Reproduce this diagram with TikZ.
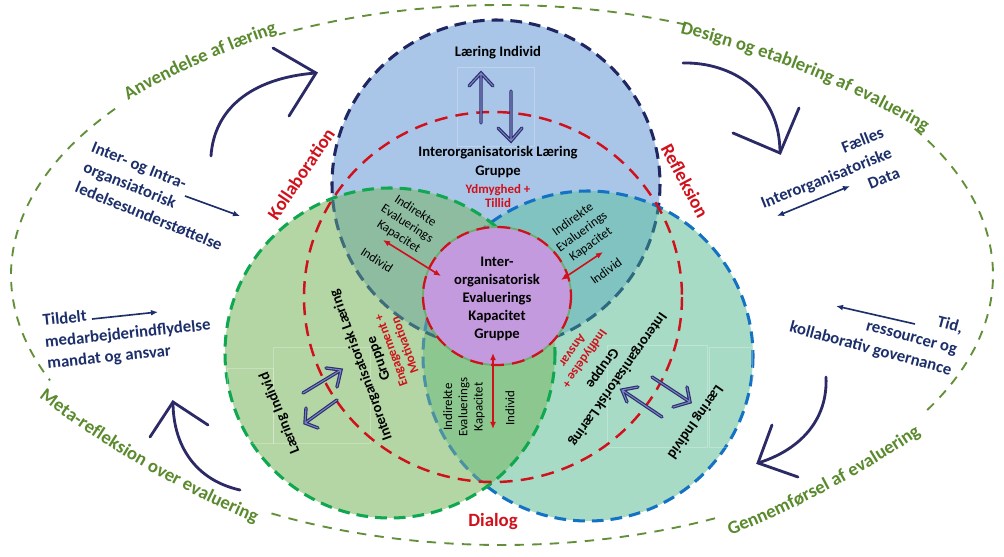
\documentclass[tikz,border=0pt]{standalone}
\usepackage{fontspec}
\setmainfont{Carlito}
\usetikzlibrary{arrows.meta,decorations.text}
\definecolor{cT}{HTML}{A9C6E8}
\definecolor{cR}{HTML}{A8DBC6}
\definecolor{cL}{HTML}{B3D6A4}
\definecolor{cTR}{HTML}{80C3C0}
\definecolor{cTL}{HTML}{8DBCA1}
\definecolor{cLR}{HTML}{8CC78F}
\definecolor{cTLR}{HTML}{76B29E}
\definecolor{cPink}{HTML}{C49ADF}
\definecolor{cPinkRing}{HTML}{6DAE70}
\definecolor{cTB}{HTML}{1F2662}
\definecolor{cRB}{HTML}{1472C4}
\definecolor{cLB}{HTML}{0FA750}
\definecolor{cTBgR}{HTML}{2C6A80}
\definecolor{cTBgL}{HTML}{3E6C7B}
\definecolor{cRBgL}{HTML}{4A92A3}
\definecolor{cRed}{HTML}{D0101B}
\definecolor{cOlive}{HTML}{62903A}
\definecolor{cOliveTxt}{HTML}{5A8A2E}
\definecolor{cNavy}{HTML}{1C2F6A}
\definecolor{cArrow}{HTML}{2B2966}
\definecolor{cArrowB}{HTML}{2C2F70}
\definecolor{cArrowIn}{HTML}{7C83C0}
\newcommand{\greenlbl}{\fontsize{16}{19}\selectfont\bfseries\color{cOliveTxt}}
\tikzset{
  circb/.style={line width=2.6pt, dash pattern=on 10pt off 6pt},
  reddash/.style={draw=cRed, line width=2.1pt, dash pattern=on 11pt off 7pt},
  outer/.style={draw=cOlive, line width=1.6pt, dash pattern=on 8pt off 7pt},
  bigarrow/.style={draw=cArrow, line width=2.4pt, line cap=round, line join=miter},
  txtarrow/.style={draw=cNavy, line width=1.4pt, -{Latex[length=6pt,width=5pt]}},
  txtarrow2/.style={draw=cNavy, line width=1.4pt, {Latex[length=6pt,width=5pt]}-{Latex[length=6pt,width=5pt]}},
  redarrow/.style={draw=cRed, line width=1.4pt, {Latex[length=6pt,width=5pt]}-{Latex[length=6pt,width=5pt]}},
  dblarrow/.style={draw=cArrowB, line width=1pt, double=cArrowIn, double distance=0.9pt, line cap=round},
  faint/.style={draw=white, opacity=0.25, line width=0.5pt},
  lbl/.style={font=\fontsize{12.5}{16}\selectfont\bfseries, align=center, inner sep=0pt},
  pinklbl/.style={font=\fontsize{12.5}{15.3}\selectfont\bfseries, align=center, inner sep=0pt},
  lens/.style={font=\fontsize{11}{13}\selectfont, align=center, inner sep=0pt},
  redlbl/.style={font=\fontsize{11}{12.5}\selectfont\bfseries, text=cRed, align=center, inner sep=0pt},
  bigred/.style={font=\fontsize{16}{19}\selectfont\bfseries, text=cRed, inner sep=0pt},
  navytxt/.style={font=\fontsize{14.3}{18.5}\selectfont\bfseries, text=cNavy, inner sep=0pt},
  greenpath/.style={decorate, decoration={text along path, text align=center, text={|\greenlbl|#1}}}
}
\begin{document}
\begin{tikzpicture}[x=0.03cm, y=-0.03cm]
\useasboundingbox (0,0) rectangle (1004,556);
\coordinate (T) at (496,184);
\coordinate (L) at (390,353);
\coordinate (R) at (588,356);
\coordinate (P) at (497,296);
\coordinate (Q) at (493,297);
\coordinate (E) at (502,275);

% outer ellipse with gaps
\draw[outer] (E) ++(-68:491 and 270) arc[start angle=-68, end angle=-117, x radius=491, y radius=270];
\draw[outer] (E) ++(-142:491 and 270) arc[start angle=-142, end angle=-203, x radius=491, y radius=270];
\draw[outer] (E) ++(-242:491 and 270) arc[start angle=-242, end angle=-296, x radius=491, y radius=270];
\draw[outer] (E) ++(-330:491 and 270) arc[start angle=-330, end angle=-393, x radius=491, y radius=270];

% outer labels
\path[greenpath={Anvendelse af læring}] (548,828) ++(-134.4:840) arc[start angle=-134.4, end angle=-94.4, radius=840];
\path[greenpath={Design og etablering af evaluering}] (469,908) ++(-88:900) arc[start angle=-88, end angle=-48, radius=900];
\path[greenpath={Meta-refleksion over evaluering}] (643,-399) ++(-220:1000) arc[start angle=-220, end angle=-260, radius=1000];
\path[greenpath={Gennemførsel af evaluering}] (359,-393) ++(-278:1000) arc[start angle=-278, end angle=-318, radius=1000];

% big curved arrows
\draw[bigarrow] (211,156) .. controls (214,110) and (250,78) .. (316,73);
\draw[bigarrow] (273,48) -- (316,73) -- (289,116);
\draw[bigarrow] (683,63) .. controls (730,62) and (780,90) .. (780,153);
\draw[bigarrow] (733,133) -- (780,153) -- (799,108);
\draw[bigarrow] (826,377) .. controls (828,420) and (800,450) .. (758,463);
\draw[bigarrow] (772,425) -- (758,463) -- (798,477);
\draw[bigarrow] (240,490) .. controls (195,480) and (173,445) .. (173,402);
\draw[bigarrow] (150,437) -- (173,402) -- (208,425);

% circles
\fill[cT] (T) circle[radius=164];
\draw[circb, draw=cTB] (T) circle[radius=164];
\fill[cR] (R) circle[radius=165];
\begin{scope}
  \clip (T) circle[radius=164];
  \fill[cTR] (R) circle[radius=165];
\end{scope}
\begin{scope}
  \clip (R) circle[radius=165];
  \draw[circb, draw=cTBgR] (T) circle[radius=164];
\end{scope}
\draw[circb, draw=cRB] (R) circle[radius=165];
\fill[cL] (L) circle[radius=165];
\begin{scope}
  \clip (L) circle[radius=165];
  \fill[cTL] (T) circle[radius=164];
  \fill[cLR] (R) circle[radius=165];
  \begin{scope}
    \clip (T) circle[radius=164];
    \fill[cTLR] (R) circle[radius=165];
  \end{scope}
  \draw[circb, draw=cTBgL] (T) circle[radius=164];
  \draw[circb, draw=cRBgL] (R) circle[radius=165];
\end{scope}
\draw[circb, draw=cLB] (L) circle[radius=165];

% faint picture frames
\draw[faint] (457,67) rectangle (534,146);
\draw[faint] (273,347) rectangle (370,443);
\draw[faint] (227,368) rectangle (273,443);
\draw[faint] (607,345) rectangle (707,447);
\draw[faint] (709,347) rectangle (752,447);

% red dashed circle
\draw[reddash] (Q) ellipse[x radius=189, y radius=185];

% pink centre
\fill[cPink] (P) ellipse[x radius=74, y radius=69];
\draw[cPinkRing, line width=1.6pt] (P) ellipse[x radius=74, y radius=69];
\draw[reddash, line width=1.9pt] (P) ellipse[x radius=74, y radius=69];
\node[pinklbl] (pk) at (497,299) {Inter-\\organisatorisk\\Evaluerings\\Kapacitet\\Gruppe};

% top group
\node[lbl] (tLI) at (498,53) {Læring Individ};
\node[lbl] (tIL) at (498,162) {Interorganisatorisk Læring\\Gruppe};
\node[redlbl] (tYT) at (498,196) {Ydmyghed +\\Tillid};
\coordinate (ta1) at (481,123); \coordinate (ta2) at (481,73);
\coordinate (tb1) at (511,91); \coordinate (tb2) at (511,141);
\draw[dblarrow] (ta1) -- (ta2) (469,86) -- (ta2) -- (493,86);
\draw[dblarrow] (tb1) -- (tb2) (498,128) -- (tb2) -- (522,128);

% left group
\node[lbl, rotate=112] (lLI) at (280,413) {Læring Individ};
\node[lbl, rotate=110] (lIL) at (370,362) {Interorganisatorisk Læring\\Gruppe};
\node[redlbl, rotate=110] (lEM) at (398,348) {Engagement +\\Motivation};
\coordinate (la1) at (303,393); \coordinate (la2) at (341,370);
\coordinate (lb1) at (337,400); \coordinate (lb2) at (305,423);
\draw[dblarrow] (la1) -- (la2) (326,368) -- (la2) -- (337,387);
\draw[dblarrow] (lb1) -- (lb2) (306,408) -- (lb2) -- (318,428);

% right group
\node[lbl, rotate=235] (rLI) at (695,422) {Læring Individ};
\node[lbl, rotate=235] (rIL) at (610,374) {Interorganisatorisk Læring\\Gruppe};
\node[redlbl, rotate=235] (rIA) at (579,355) {Indflydelse +\\Ansvar};
\coordinate (ra1) at (662,417); \coordinate (ra2) at (622,390);
\coordinate (rb1) at (652,377); \coordinate (rb2) at (690,402);
\draw[dblarrow] (ra1) -- (ra2) (638,387) -- (ra2) -- (627,402);
\draw[dblarrow] (rb1) -- (rb2) (687,387) -- (rb2) -- (673,407);

% lens texts
\node[lens, rotate=-33] (tlK) at (407,224) {Indirekte\\Evaluerings\\Kapacitet};
\node[lens, rotate=-33] (tlI) at (377,260) {Individ};
\node[lens, rotate=36] (trK) at (582,232) {Indirekte\\Evaluerings\\Kapacitet};
\node[lens, rotate=36] (trI) at (606,271) {Individ};
\node[lens, rotate=90] (bK) at (464,407) {Indirekte\\Evaluerings\\Kapacitet};
\node[lens, rotate=90] (bI) at (510,408) {Individ};

% red double arrows
\coordinate (r1a) at (383,240); \coordinate (r1b) at (441,276);
\coordinate (r2a) at (603,252); \coordinate (r2b) at (561,280);
\coordinate (r3a) at (493,353); \coordinate (r3b) at (493,429);
\draw[redarrow] (r1a) -- (r1b);
\draw[redarrow] (r2a) -- (r2b);
\draw[redarrow] (r3a) -- (r3b);

% red side labels
\node[bigred, rotate=56] (kol) at (301,174) {Kollaboration};
\node[bigred, rotate=-62] (ref) at (685,181) {Refleksion};
\node[bigred] (dia) at (493,522) {Dialog};

% navy texts and arrows
\node[navytxt, align=left, anchor=west, rotate=-22] (n1) at (84,167) {Inter- og Intra-\\organsiatorisk\\ledelsesunderstøttelse};
\node[navytxt, align=left, anchor=west, rotate=6] (n2) at (45,343) {Tildelt\\medarbejderindflydelse\\mandat og ansvar};
\node[navytxt, align=right, anchor=east, rotate=21.7] (n3) at (891,152) {Fælles\\Interorganisatoriske\\Data};
\node[navytxt, align=right, anchor=east, rotate=-15] (n4) at (957,350) {Tid,\\ressourcer og\\kollaborativ governance};
\coordinate (a1s) at (185,196); \coordinate (a1e) at (240,216);
\coordinate (a2s) at (92,319); \coordinate (a2e) at (158,312);
\coordinate (a3s) at (777,216); \coordinate (a3e) at (850,186);
\coordinate (a4s) at (915,324); \coordinate (a4e) at (836,306);
\draw[txtarrow] (a1s) -- (a1e);
\draw[txtarrow] (a2s) -- (a2e);
\draw[txtarrow2] (a3s) -- (a3e);
\draw[txtarrow] (a4s) -- (a4e);
\end{tikzpicture}
\end{document}
